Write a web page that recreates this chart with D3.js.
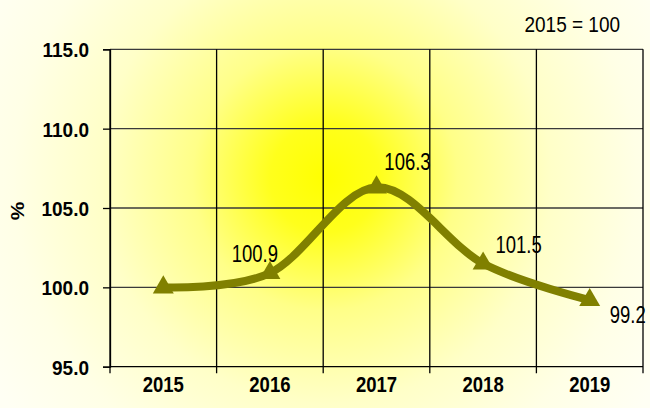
<!DOCTYPE html>
<html>
<head>
<meta charset="utf-8">
<script src="https://cdn.jsdelivr.net/npm/d3@7"></script>
<style>
  html, body { margin: 0; padding: 0; background: #fffff2; }
  svg { display: block; }
  text { font-family: Arial, "Liberation Sans", sans-serif; fill: #000; }
</style>
</head>
<body>
<div id="chart"></div>
<script>
// ---- data ----
const categories = ["2015", "2016", "2017", "2018", "2019"];
const values = [100.0, 100.9, 106.3, 101.5, 99.2];
const valueLabels = ["", "100.9", "106.3", "101.5", "99.2"];
const yTicks = [95, 100, 105, 110, 115];
const yTitle = "%";
const note = "2015 = 100";

// ---- layout (styles/positions only) ----
const W = 650, H = 408;
const plot = { left: 110, right: 643, top: 49.3, bottom: 366.7 };
const labelOffsets = [[0, 0], [-15, -11], [31, -17], [35.5, -10.5], [38, 23]];

const svg = d3.select("#chart").append("svg")
  .attr("width", W).attr("height", H);

// background gradient
const defs = svg.append("defs");
const grad = defs.append("radialGradient")
  .attr("id", "bg").attr("gradientUnits", "userSpaceOnUse")
  .attr("cx", 325).attr("cy", 178).attr("r", 390);
[[0, "#ffff00"], [0.14, "#ffff1c"], [0.34, "#ffff88"], [0.58, "#ffffc8"], [0.8, "#ffffe6"], [1, "#fffff4"]]
  .forEach(([o, c]) => grad.append("stop").attr("offset", o).attr("stop-color", c));
svg.append("rect").attr("width", W).attr("height", H).attr("fill", "url(#bg)");

const x = d3.scaleBand().domain(categories).range([plot.left, plot.right]).padding(0);
const y = d3.scaleLinear().domain([95, 115]).range([plot.bottom, plot.top]);

// horizontal gridlines
svg.append("g").selectAll("line").data(yTicks).join("line")
  .attr("x1", plot.left).attr("x2", plot.right)
  .attr("y1", d => y(d)).attr("y2", d => y(d))
  .attr("stroke", d => d === 95 ? "#000" : "#3a3a3a").attr("stroke-width", 1.3);

// vertical gridlines at band boundaries
const bounds = categories.map(c => x(c)).concat([plot.right]);
svg.append("g").selectAll("line").data(bounds).join("line")
  .attr("x1", d => d).attr("x2", d => d)
  .attr("y1", plot.top).attr("y2", plot.bottom + 6.5)
  .attr("stroke", "#000").attr("stroke-width", 1.3);

// y axis
const yAxis = svg.append("g").attr("transform", `translate(${plot.left},0)`)
  .call(d3.axisLeft(y).tickValues(yTicks).tickFormat(d3.format(".1f")).tickSize(7).tickPadding(14));
yAxis.select(".domain").attr("stroke", "#000").attr("stroke-width", 1.3);
yAxis.selectAll(".tick line").attr("stroke", "#000").attr("stroke-width", 1.3);
yAxis.selectAll(".tick text")
  .attr("font-family", "Arial, 'Liberation Sans', sans-serif")
  .attr("font-size", 19).attr("font-weight", "bold").attr("fill", "#000")
  .attr("dy", "0.36em")
  .attr("transform", "scale(1,1.1)");

// x axis labels
const xAxis = svg.append("g").attr("transform", `translate(0,${plot.bottom})`)
  .call(d3.axisBottom(x).tickSize(0).tickPadding(0));
xAxis.select(".domain").remove();
xAxis.selectAll(".tick text")
  .attr("font-family", "Arial, 'Liberation Sans', sans-serif")
  .attr("font-size", 18.5).attr("font-weight", "bold").attr("fill", "#000")
  .attr("dy", 0).attr("y", 0)
  .attr("transform", "translate(0,25) scale(1,1.2)");

// y title
svg.append("text")
  .attr("transform", "translate(24,211) rotate(-90) scale(1.1,1)")
  .attr("text-anchor", "middle")
  .attr("font-size", 19).attr("font-weight", "bold")
  .text(yTitle);

// note
svg.append("text")
  .attr("transform", "translate(620,32) scale(1,1.2)")
  .attr("text-anchor", "end")
  .attr("font-size", 19)
  .text(note);

// line
const pts = categories.map((c, i) => [x(c) + x.bandwidth() / 2, y(values[i])]);
svg.append("path")
  .attr("d", d3.line().curve(d3.curveCatmullRom.alpha(0))(pts))
  .attr("fill", "none").attr("stroke", "#808000").attr("stroke-width", 8)
  .attr("stroke-linecap", "round").attr("stroke-linejoin", "round");

// triangle markers
const tri = d3.symbol().type(d3.symbolTriangle).size(190);
svg.append("g").selectAll("path").data(pts).join("path")
  .attr("d", tri)
  .attr("transform", d => `translate(${d[0]},${d[1]})`)
  .attr("fill", "#808000");

// value labels
svg.append("g").selectAll("text").data(pts).join("text")
  .attr("transform", (d, i) => `translate(${d[0] + labelOffsets[i][0]},${d[1] + labelOffsets[i][1]}) scale(1,1.28)`)
  .attr("text-anchor", "middle")
  .attr("font-size", 18.5)
  .text((d, i) => valueLabels[i]);
</script>
</body>
</html>
